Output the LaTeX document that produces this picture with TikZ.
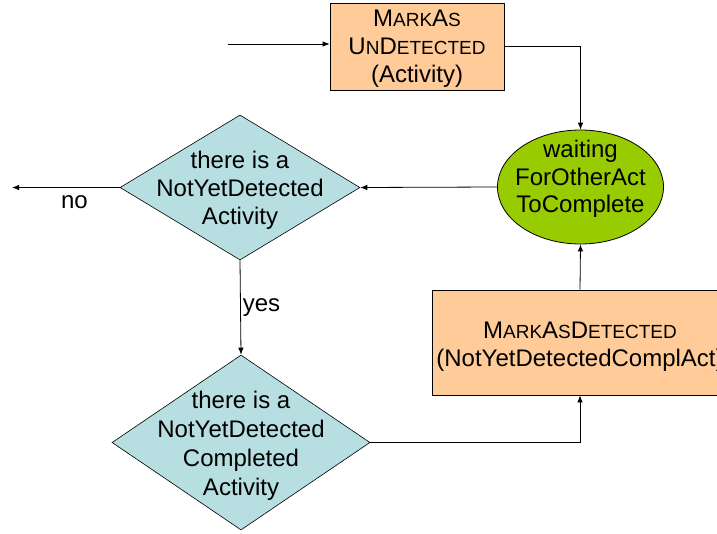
\documentclass[tikz,border=0pt]{standalone}
\usepackage{fontspec}
\setmainfont{Liberation Sans}
\usetikzlibrary{shapes.geometric,arrows.meta}
\definecolor{peach}{HTML}{FFCC99}
\definecolor{leaf}{HTML}{99CC00}
\definecolor{aqua}{HTML}{B7DEE1}
\newcommand{\smc}[1]{{\fontsize{19}{28}\selectfont #1}}
\begin{document}
\begin{tikzpicture}[x=1pt,y=-1pt,
  txt/.style={font=\fontsize{24}{28}\selectfont, align=center, inner sep=0pt},
  procbox/.style={draw=black, line width=0.8pt, fill=peach, rectangle, inner sep=0pt},
  waitell/.style={draw=black, line width=0.8pt, fill=leaf, ellipse, inner sep=0pt},
  decide/.style={draw=black, line width=0.6pt, fill=aqua, diamond, inner sep=0pt},
  conn/.style={draw=black, line width=0.8pt},
  arr/.style={conn, -{Latex[length=7pt,width=5.5pt]}}]
\clip (0,0) rectangle (717,533);
\fill[white] (0,0) rectangle (717,533);
% shapes
\node[procbox, minimum width=174pt, minimum height=87pt] (box1) at (417,46.5) {};
\node[txt] (box1t) at (417,49) {M\smc{ARK}A\smc{S}\\U\smc{N}D\smc{ETECTED}\\(Activity)};
\node[waitell, minimum width=166pt, minimum height=114pt] (ell) at (580.5,187) {};
\node[txt, font=\fontsize{24}{27.5}\selectfont] (ellt) at (580.5,179) {waiting\\ForOtherAct\\ToComplete};
\node[decide, minimum width=240pt, minimum height=145pt] (d1) at (240,187.5) {};
\node[txt] (d1t) at (240,190) {there is a\\NotYetDetected\\Activity};
\node[decide, minimum width=258pt, minimum height=175pt] (d2) at (241,442.5) {};
\node[txt, font=\fontsize{24}{29}\selectfont] (d2t) at (241,446) {there is a\\NotYetDetected\\Completed\\Activity};
\node[procbox, minimum width=296pt, minimum height=105pt] (box2) at (580,342.5) {};
\node[txt] (box2t) at (580,346.5) {M\smc{ARK}A\smc{S}D\smc{ETECTED}\\(NotYetDetectedComplAct)};
% free ends
\coordinate (start) at (228,44);
\coordinate (noend) at (12,187.5);
% connectors
\draw[arr] (start) -- (start -| box1.west);
\draw[arr] (box1.east) -| (ell.north);
\draw[arr] (ell.west) -- (d1.east);
\draw[arr] (d1.west) -- (noend) node[txt, pos=0.42, below=8pt] (nolab) {no};
\draw[arr] (d1.south) -- (d2.north) node[txt, midway, right=2pt] (yeslab) {yes};
\draw[arr] (d2.east) -| (box2.south);
\draw[arr] (box2.north) -- (ell.south);
\end{tikzpicture}
\end{document}
